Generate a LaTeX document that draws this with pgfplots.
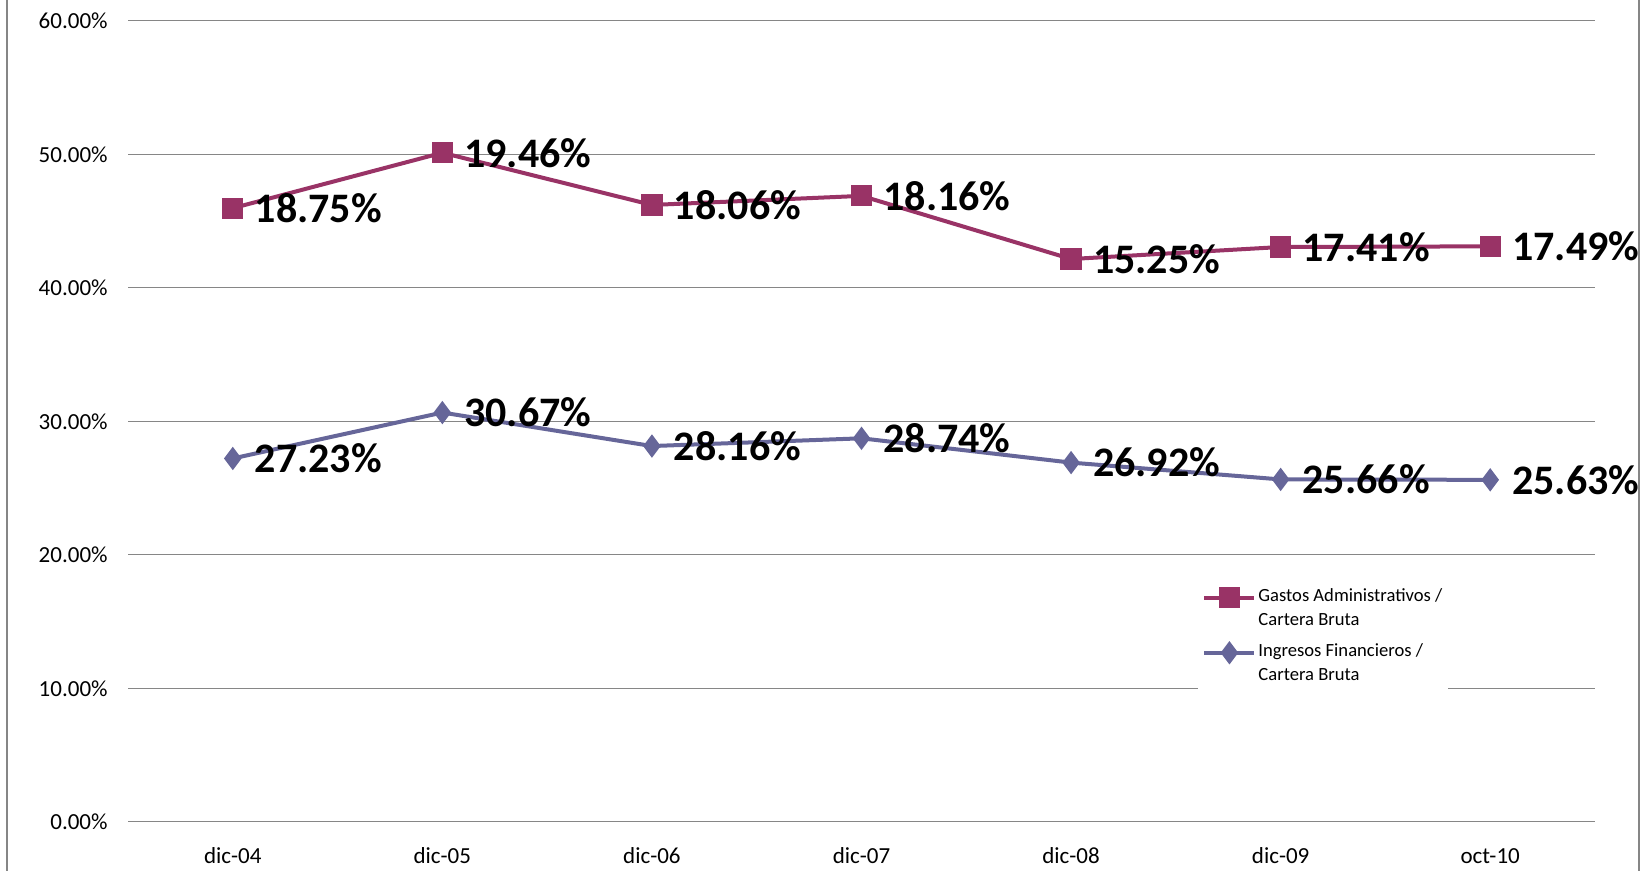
\documentclass[border=0pt]{standalone}
\usepackage{fontspec}
\setmainfont{Carlito}
\usepackage{pgfplots}
\pgfplotsset{compat=1.18}
\usepackage{pgfplotstable}
\definecolor{gastos}{RGB}{153,51,102}
\definecolor{ingresos}{RGB}{102,102,153}
\definecolor{gridc}{RGB}{134,134,134}

\pgfplotstableread{
x ingresos gastos
0 27.23 18.75
1 30.67 19.46
2 28.16 18.06
3 28.74 18.16
4 26.92 15.25
5 25.66 17.41
6 25.63 17.49
}\datatable

\begin{document}
\begin{tikzpicture}
\useasboundingbox (0,0) rectangle (824pt,435.5pt);
\draw[gridc, line width=1pt] (3.5pt,0) -- (3.5pt,435.5pt);
\draw[gridc, line width=1pt] (819.5pt,0) -- (819.5pt,435.5pt);
\begin{axis}[
  at={(64pt,24.5pt)}, anchor=south west,
  scale only axis, width=733.5pt, height=400.5pt,
  xmin=-0.5, xmax=6.5, ymin=0, ymax=60,
  xtick={0,...,6}, xticklabels={dic-04,dic-05,dic-06,dic-07,dic-08,dic-09,oct-10},
  ytick={0,10,...,60},
  ymajorgrids, grid style={gridc, line width=0.5pt},
  axis line style={draw=none},
  major tick length=0pt,
  tick style={draw=none},
  /pgf/number format/assume math mode=true,
  yticklabel={\pgfmathprintnumber[fixed,fixed zerofill,precision=2]{\tick}\%},
  y tick label style={font=\fontsize{11.5}{13}\selectfont, anchor=east, inner sep=0pt, xshift=-10pt},
  x tick label style={font=\fontsize{11.5}{13}\selectfont, anchor=base, inner sep=0pt, yshift=-21pt},
  stack plots=y,
  point meta=explicit,
  nodes near coords={\pgfmathprintnumber[fixed,fixed zerofill,precision=2]{\pgfplotspointmeta}\%},
  nodes near coords style={font=\fontsize{21}{24}\selectfont\bfseries, anchor=west, inner sep=0pt, xshift=10pt, text=black},
  reverse legend,
  legend style={at={(0.7294,0.302)}, anchor=north west, draw=none, fill=white,
    font=\fontsize{9.3}{12}\selectfont, cells={anchor=west, align=left},
    inner xsep=2pt, inner ysep=3pt, row sep=5.5pt,
    nodes={inner xsep=1pt, inner ysep=1pt}},
  legend image code/.code={\draw[mark repeat=2,mark phase=2,yshift=5.3pt,#1] plot coordinates {(0pt,0pt)(12.5pt,0pt)(25pt,0pt)};},
]
\addplot[ingresos, line width=2pt, mark=diamond*, mark size=4.2pt, mark options={solid, fill=ingresos}]
  table[x=x, y=ingresos, meta=ingresos] {\datatable};
\addlegendentry{Ingresos Financieros /\\Cartera Bruta}
\addplot[gastos, line width=2pt, mark=square*, mark size=4.3pt, mark options={solid, fill=gastos}]
  table[x=x, y=gastos, meta=gastos] {\datatable};
\addlegendentry{Gastos Administrativos /\\Cartera Bruta}
\end{axis}
\end{tikzpicture}
\end{document}
